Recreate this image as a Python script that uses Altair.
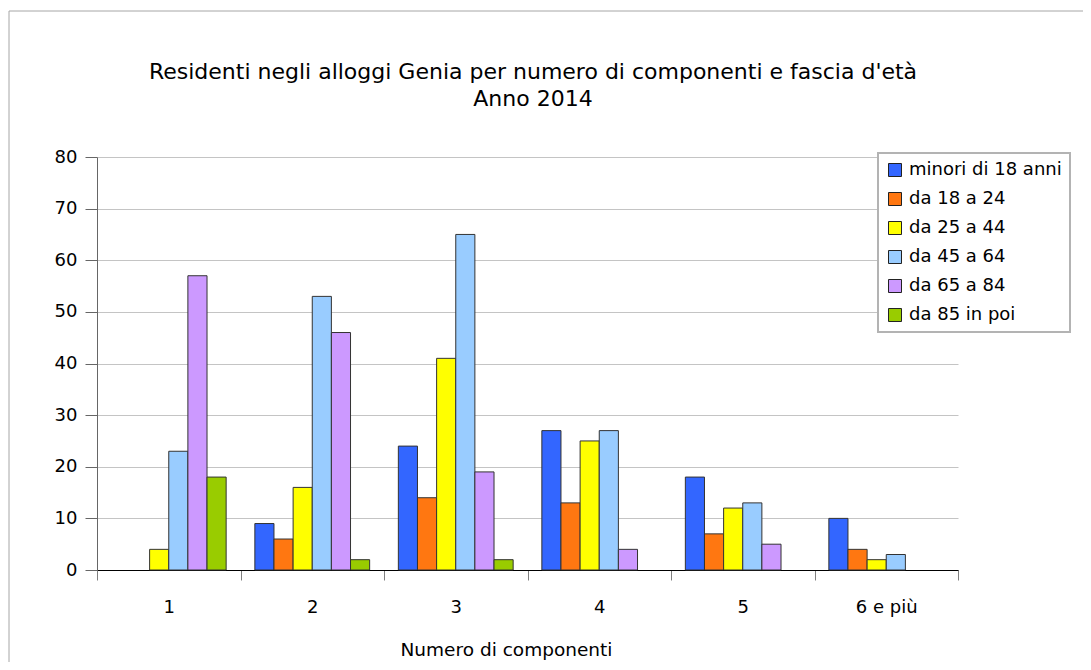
import altair as alt
import pandas as pd

categories = ["1", "2", "3", "4", "5", "6 e più"]
series = ["minori di 18 anni", "da 18 a 24", "da 25 a 44", "da 45 a 64", "da 65 a 84", "da 85 in poi"]
colors = ["#3366ff", "#ff7711", "#ffff00", "#99ccff", "#cc99ff", "#99cc00"]

minori = [0, 9, 24, 27, 18, 10]
da18_24 = [0, 6, 14, 13, 7, 4]
da25_44 = [4, 16, 41, 25, 12, 2]
da45_64 = [23, 53, 65, 27, 13, 3]
da65_84 = [57, 46, 19, 4, 5, 0]
da85 = [18, 2, 2, 0, 0, 0]

title_lines = ["Residenti negli alloggi Genia per numero di componenti e fascia d'età", "Anno 2014"]

values = [minori, da18_24, da25_44, da45_64, da65_84, da85]
rows = []
for s, vals in zip(series, values):
    for c, v in zip(categories, vals):
        rows.append({"cat": c, "serie": s, "v": v})
df = pd.DataFrame(rows)

FONT = "DejaVu Sans"

border = alt.Chart(alt.Data(values=[{}])).mark_rect(
    fill=None, stroke="#a6a6a6", strokeWidth=1
).encode(
    x=alt.value(-88), x2=alt.value(1200), y=alt.value(-146), y2=alt.value(700)
)

title_text = alt.Chart(alt.Data(values=[{}])).mark_text(
    font=FONT, fontSize=22, color="#000000", align="center", baseline="middle",
    lineHeight=27, lineBreak="\n"
).encode(
    x=alt.value(436), y=alt.value(-85), text=alt.value("\n".join(title_lines))
)

bars = alt.Chart(df).transform_filter("datum.v > 0").mark_bar(
    stroke="#333333", strokeWidth=1
).encode(
    x=alt.X("cat:N", sort=categories, title="Numero di componenti",
            scale=alt.Scale(paddingInner=0, paddingOuter=0),
            axis=alt.Axis(tickBand="extent", labelAngle=0, grid=False,
                          domainColor="#000000", tickColor="#808080", tickSize=10,
                          labelPadding=18, labelFontSize=18, labelFont=FONT, labelColor="#000000",
                          titleFontSize=18.5, titleFont=FONT, titleFontWeight="normal",
                          titleColor="#000000", titlePadding=24, titleX=409, titleAnchor="middle")),
    xOffset=alt.XOffset("serie:N", sort=series,
                        scale=alt.Scale(domain=series, paddingInner=0, paddingOuter=0.75)),
    y=alt.Y("v:Q", title=None, scale=alt.Scale(domain=[0, 80]),
            axis=alt.Axis(values=list(range(0, 81, 10)), grid=True, gridColor="#c4c4c4",
                          gridWidth=1, domainColor="#666666", tickColor="#666666",
                          tickSize=12, labelPadding=8, labelFontSize=18, labelFont=FONT,
                          labelColor="#000000")),
    color=alt.Color("serie:N", sort=series,
                    scale=alt.Scale(domain=series, range=colors),
                    legend=alt.Legend(orient="none", legendX=781, legendY=-4, title=None,
                                      symbolType="square", symbolSize=169,
                                      symbolStrokeColor="#222222", symbolStrokeWidth=1,
                                      labelFontSize=18, labelFont=FONT, labelColor="#000000",
                                      rowPadding=11, padding=8, labelOffset=5,
                                      strokeColor="#b3b3b3", fillColor="#ffffff")),
)

chart = alt.layer(border, title_text, bars).properties(
    width=861, height=413,
    autosize=alt.AutoSizeParams(type="none"),
    padding={"left": 89, "top": 149, "right": 125, "bottom": 92},
).configure_view(stroke=None).configure_legend(strokeWidth=2)

chart.save("out.html", embed_options={"renderer": "svg", "actions": False})
